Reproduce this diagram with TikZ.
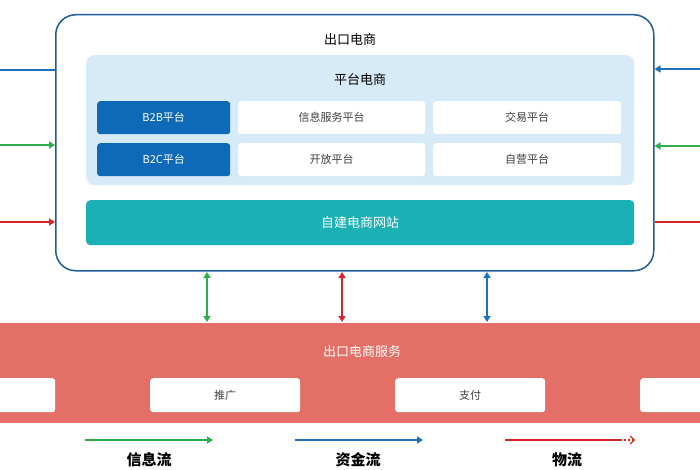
\documentclass[tikz,border=0pt]{standalone}
\usepackage{fontspec}
\newfontfamily\cjk{Noto Sans CJK SC}
\usetikzlibrary{arrows.meta}
\definecolor{dblue}{HTML}{1F5C99}
\definecolor{lblue}{HTML}{D6EAF8}
\definecolor{bblue}{HTML}{0E6AB8}
\definecolor{teal}{HTML}{1BB0B5}
\definecolor{band}{HTML}{E36F66}
\definecolor{g}{HTML}{2EAD4B}
\definecolor{r}{HTML}{D9252A}
\definecolor{b}{HTML}{1E72B8}
\begin{document}
\begin{tikzpicture}[x=1pt,y=-1pt,font=\cjk,
 cell/.style={draw=none,fill=white,rounded corners=3pt,anchor=north west,inner sep=0pt,font=\cjk\fontsize{11}{11}\selectfont,text=black!75},
 bcell/.style={cell,fill=bblue,text=white},
 arr/.style={line width=1.8pt,-{Triangle[length=6pt,width=7pt]}},
 darr/.style={line width=1.8pt,{Triangle[length=6pt,width=7pt]}-{Triangle[length=6pt,width=7pt]}}]
\useasboundingbox (0,0) rectangle (700,470);
\fill[white] (0,0) rectangle (700,470);
% outer
\node[draw=dblue,line width=1.5pt,rounded corners=20pt,minimum width=598pt,minimum height=256pt,anchor=north west,inner sep=0pt] (outer) at (55,14) {};
\node[font=\cjk\fontsize{13}{13}\selectfont] (t1) at (350,40) {出口电商};
\node[fill=lblue,rounded corners=8pt,minimum width=548pt,minimum height=130pt,anchor=north west,inner sep=0pt] (panel) at (86,55) {};
\node[font=\cjk\fontsize{13}{13}\selectfont] (t2) at (360,80) {平台电商};
\node[bcell,minimum width=133pt,minimum height=33pt] (b2b) at (97,101) {B2B平台};
\node[cell,minimum width=187pt,minimum height=33pt] (xx) at (238,101) {信息服务平台};
\node[cell,minimum width=188pt,minimum height=33pt] (jy) at (433,101) {交易平台};
\node[bcell,minimum width=133pt,minimum height=33pt] (b2c) at (97,143) {B2C平台};
\node[cell,minimum width=187pt,minimum height=33pt] (kf) at (238,143) {开放平台};
\node[cell,minimum width=188pt,minimum height=33pt] (zy) at (433,143) {自营平台};
\node[fill=teal,rounded corners=4pt,minimum width=548pt,minimum height=45pt,anchor=north west,inner sep=0pt,text=white,font=\cjk\fontsize{13}{13}\selectfont] (site) at (86,200) {自建电商网站};
% side arrows
\coordinate (l1) at (0,70); \coordinate (l2) at (0,145); \coordinate (l3) at (0,222);
\coordinate (r1) at (700,69); \coordinate (r2) at (700,146); \coordinate (r3) at (700,222);
\draw[b,line width=1.8pt] (l1) -- (outer.west |- l1);
\draw[g,arr] (l2) -- (outer.west |- l2);
\draw[r,arr] (l3) -- (outer.west |- l3);
\draw[b,arr] (r1) -- (outer.east |- r1);
\draw[g,arr] (r2) -- (outer.east |- r2);
\draw[r,line width=1.8pt] (r3) -- (outer.east |- r3);
% band
\node[fill=band,minimum width=700pt,minimum height=100pt,anchor=north west,inner sep=0pt] (bandn) at (0,323) {};
\node[text=white,font=\cjk\fontsize{13}{13}\selectfont] (t3) at (362,352) {出口电商服务};
\node[cell,minimum width=70pt,minimum height=34pt] (c0) at (-15,378) {};
\node[cell,minimum width=150pt,minimum height=34pt] (tg) at (150,378) {推广};
\node[cell,minimum width=150pt,minimum height=34pt] (zf) at (395,378) {支付};
\node[cell,minimum width=80pt,minimum height=34pt] (c4) at (640,378) {};
% vertical arrows
\draw[g,darr] (207,272) -- (207,322);
\draw[r,darr] (342,272) -- (342,322);
\draw[b,darr] (487,272) -- (487,322);
% legend
\coordinate (ga) at (85,440); \coordinate (gb) at (213,440);
\coordinate (ba) at (295,440); \coordinate (bb) at (423,440);
\coordinate (ra) at (505,440); \coordinate (rb) at (620,440); \coordinate (rc) at (635,440);
\draw[g,arr] (ga) -- (gb);
\draw[b,arr] (ba) -- (bb);
\draw[r,line width=1.8pt] (ra) -- (rb);
\draw[r,line width=1.2pt,dash pattern=on 2pt off 2pt,-{Straight Barb[length=4pt]}] (rb) -- (rc);
\node[font=\cjk\bfseries\fontsize{15}{15}\selectfont] (lg1) at (149,460) {信息流};
\node[font=\cjk\bfseries\fontsize{15}{15}\selectfont] (lg2) at (358,460) {资金流};
\node[font=\cjk\bfseries\fontsize{15}{15}\selectfont] (lg3) at (567,460) {物流};
\end{tikzpicture}
\end{document}
